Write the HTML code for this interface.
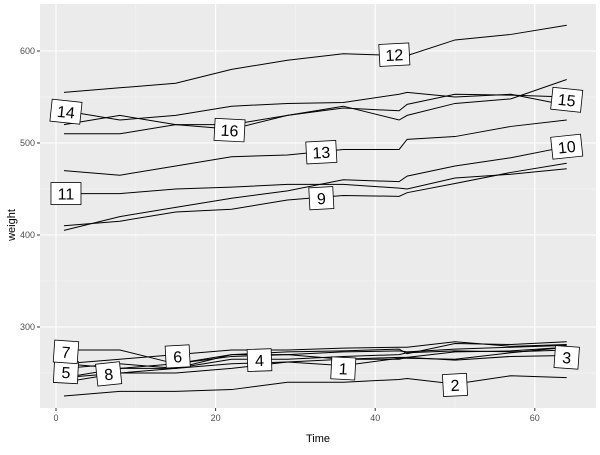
<!DOCTYPE html>
<html><head><meta charset="utf-8"><style>
body{margin:0;background:#fff}
svg{font-family:"Liberation Sans",sans-serif}
</style></head><body>
<svg id="chart" width="600" height="450" xmlns="http://www.w3.org/2000/svg">
<rect x="0" y="0" width="600" height="450" fill="#fff"/>
<rect x="40" y="4" width="556" height="404" fill="#ebebeb"/>
<g id="grid"></g><g id="lines"></g><g id="labels"></g><g id="axes"></g>
<text x="318" y="442" text-anchor="middle" font-size="11" fill="#000">Time</text>
<text x="15" y="225" text-anchor="middle" font-size="11" fill="#000" transform="rotate(-90 15 225)">weight</text>
</svg>
<script>
const times=[1,8,15,22,29,36,43,44,50,57,64];
const rats=["1","2","3","4","5","6","7","8","9","10","11","12","13","14","15","16"];
const weights=[
[240,250,255,260,262,258,266,266,265,272,278],
[225,230,230,232,240,240,243,244,238,247,245],
[245,250,250,255,262,265,267,267,264,268,269],
[260,255,255,265,265,268,270,272,274,273,275],
[255,260,255,270,270,273,274,273,276,278,280],
[260,265,270,275,275,277,278,278,284,279,281],
[275,275,260,270,273,274,276,271,282,281,284],
[245,255,260,268,270,265,265,267,273,274,278],
[410,415,425,428,438,443,442,446,456,468,478],
[405,420,430,440,448,460,458,464,475,484,496],
[445,445,450,452,455,455,451,450,462,466,472],
[555,560,565,580,590,597,595,595,612,618,628],
[470,465,475,485,487,493,493,504,507,518,525],
[535,525,530,540,543,544,553,555,550,553,541],
[520,530,520,520,530,540,525,530,543,548,569],
[510,510,520,515,530,538,535,542,553,552,550]];
const labelT=[36,50,64,25.5,1.25,15.25,1.25,6.6,33.25,64,1.25,42.4,33.25,1.25,64,21.75];
const labelW=[255,237,267,264,251,268,273,249,440,496,445,596,490,534,547,514];
const labelRot=[3,-3,4,-2,3,-3,4,-6,-3,-6,0,-3,-3,6,6,3];
const xTicks=[0,20,40,60], xMinor=[10,30,50];
const yTicks=[300,400,500,600], yMinor=[250,350,450,550];
const X=t=>56+t*7.98, Y=v=>327-(v-300)*0.92;
const NS="http://www.w3.org/2000/svg";
function mk(tag,attrs,parent){const e=document.createElementNS(NS,tag);for(const k in attrs)e.setAttribute(k,attrs[k]);parent.appendChild(e);return e;}
const grid=document.getElementById('grid'),lines=document.getElementById('lines'),labels=document.getElementById('labels'),axes=document.getElementById('axes');
xMinor.forEach(t=>{const l=mk('line',{x1:X(t),x2:X(t),y1:4,y2:408,stroke:'#f5f5f5','stroke-width':0.6},grid);

});
yMinor.forEach(v=>{const l=mk('line',{x1:40,x2:596,y1:Y(v),y2:Y(v),stroke:'#f5f5f5','stroke-width':0.6},grid);

});
xTicks.forEach(t=>{const l=mk('line',{x1:X(t),x2:X(t),y1:4,y2:408,stroke:'#fff','stroke-width':1.1},grid);


const k=mk('line',{x1:X(t),x2:X(t),y1:408,y2:411,stroke:'#333'},axes);


const tx=mk('text',{x:X(t),y:421,'text-anchor':'middle','font-size':9,fill:'#4d4d4d'},axes);tx.textContent=t;

});
yTicks.forEach(v=>{const l=mk('line',{x1:40,x2:596,y1:Y(v),y2:Y(v),stroke:'#fff','stroke-width':1.1},grid);


const k=mk('line',{x1:37,x2:40,y1:Y(v),y2:Y(v),stroke:'#333'},axes);


const tx=mk('text',{x:35,y:Y(v)+3,'text-anchor':'end','font-size':9,fill:'#4d4d4d'},axes);tx.textContent=v;

});
weights.forEach((w,i)=>{const p=mk('polyline',{points:w.map((v,j)=>X(times[j])+','+Y(v)).join(' '),fill:'none',stroke:'#000','stroke-width':1},lines);

});
rats.forEach((r,i)=>{const cx=X(labelT[i]),cy=Y(labelW[i]);
const g=mk('g',{transform:`rotate(${labelRot[i]} ${cx} ${cy})`},labels);


const w=r.length>1?30:24;
mk('rect',{x:cx-w/2,y:cy-11,width:w,height:22,fill:'#fff',stroke:'#000','stroke-width':0.8},g);
const t=mk('text',{x:cx,y:cy+6,'text-anchor':'middle','font-size':16,fill:'#000'},g);t.textContent=r;});
</script>
</body></html>
